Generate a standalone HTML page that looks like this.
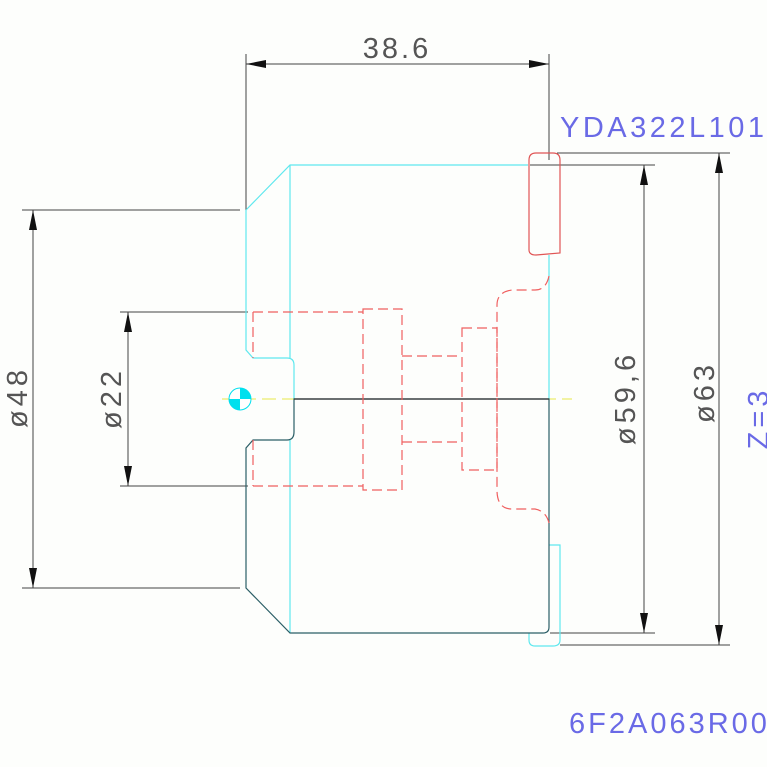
<!DOCTYPE html>
<html><head><meta charset="utf-8"><style>
html,body{margin:0;padding:0;background:#fdfefc;}
svg{display:block}
text{font-family:"Liberation Sans",sans-serif;}
</style></head><body>
<svg width="767" height="767" viewBox="0 0 767 767">
<rect width="767" height="767" fill="#fdfefc"/>
<g stroke="#444" stroke-width="1" fill="none">
<line x1="246" y1="54" x2="246" y2="210"/>
<line x1="549" y1="54" x2="549" y2="160"/>
<line x1="246" y1="64" x2="549" y2="64"/>
<line x1="557" y1="153" x2="730" y2="153"/>
<line x1="530" y1="165" x2="655" y2="165"/>
<line x1="550" y1="633" x2="655" y2="633"/>
<line x1="560" y1="645" x2="730" y2="645"/>
<line x1="644" y1="165" x2="644" y2="633"/>
<line x1="719" y1="153" x2="719" y2="645"/>
<line x1="22" y1="210" x2="240" y2="210"/>
<line x1="22" y1="588" x2="240" y2="588"/>
<line x1="33" y1="210" x2="33" y2="588"/>
<line x1="120" y1="312" x2="248" y2="312"/>
<line x1="120" y1="486" x2="248" y2="486"/>
<line x1="128" y1="312" x2="128" y2="486"/>
</g>
<g fill="#111">
<polygon points="246,64 266,60 266,68"/>
<polygon points="549,64 529,60 529,68"/>
<polygon points="644,165 640,185 648,185"/>
<polygon points="644,633 640,613 648,613"/>
<polygon points="719,153 715,173 723,173"/>
<polygon points="719,645 715,625 723,625"/>
<polygon points="33,210 29,230 37,230"/>
<polygon points="33,588 29,568 37,568"/>
<polygon points="128,312 124,332 132,332"/>
<polygon points="128,486 124,466 132,466"/>
</g>
<line x1="222" y1="399" x2="572" y2="399" stroke="#e8e84a" stroke-width="1" stroke-dasharray="14,6"/>
<g stroke="#5fe8ee" stroke-width="1.2" fill="none">
<polyline points="246,210 290,165 528,165"/>
<polyline points="246,210 246,350 253,358 287,358"/>
<path d="M287,358 Q294,358 294,365 L294,399"/>
<line x1="290" y1="165" x2="290" y2="358"/>
<line x1="290" y1="440" x2="290" y2="633"/>
<line x1="549" y1="255" x2="549" y2="400"/>
<path d="M549,545 L560,545 L560,640 Q560,646 553,646 L535,646 Q529,646 529,640 L529,633"/>
</g>
<path d="M294,399 L294,432 Q294,440 287,440 L253,440 L246,448 L246,588 L290,633 L543,633 Q549,633 549,627 L549,399 Z" stroke="#2b5e66" stroke-width="1.2" fill="none"/>
<line x1="294" y1="399" x2="549" y2="399" stroke="#333" stroke-width="1.2"/>
<path d="M529,160 Q529,153 536,153 L553,153 Q560,153 560,160 L560,253 L536,255 Q529,255 529,250 Z" stroke="#e05555" stroke-width="1.2" fill="none"/>
<g stroke="#f06060" stroke-width="1.2" fill="none" stroke-dasharray="10,5">
<line x1="253" y1="312" x2="363" y2="312"/>
<line x1="253" y1="486" x2="363" y2="486"/>
<line x1="253" y1="312" x2="253" y2="358"/>
<line x1="253" y1="440" x2="253" y2="486"/>
<rect x="363" y="309" width="39" height="181"/>
<line x1="402" y1="356" x2="462" y2="356"/>
<line x1="402" y1="442" x2="462" y2="442"/>
<rect x="462" y="328" width="35" height="142"/>
<path d="M549,276 Q546,290 535,290 L512,290 Q497,292 497,305 L497,490 Q497,509 512,509 L535,509 Q546,511 549,523"/>
</g>
<g>
<circle cx="240" cy="399" r="11" fill="#fff" stroke="#00e0ee" stroke-width="1"/>
<path d="M240,399 L240,388 A11,11 0 0 1 251,399 Z" fill="#00e0ee"/>
<path d="M240,399 L240,410 A11,11 0 0 1 229,399 Z" fill="#00e0ee"/>
</g>
<text x="397" y="58" font-size="29" fill="#555" text-anchor="middle" letter-spacing="3">38.6</text>
<text x="560" y="137" font-size="29" fill="#6a6ae6" letter-spacing="3.5">YDA322L101</text>
<text x="569" y="733" font-size="29" fill="#6a6ae6" letter-spacing="3">6F2A063R00</text>
<text transform="translate(635,398) rotate(-90)" font-size="29" fill="#555" text-anchor="middle" letter-spacing="4">ø59,6</text>
<text transform="translate(714,392) rotate(-90)" font-size="29" fill="#555" text-anchor="middle" letter-spacing="4">ø63</text>
<text transform="translate(768,418) rotate(-90)" font-size="29" fill="#6a6ae6" text-anchor="middle" letter-spacing="4">Z=3</text>
<text transform="translate(27,397) rotate(-90)" font-size="29" fill="#555" text-anchor="middle" letter-spacing="4">ø48</text>
<text transform="translate(121,398) rotate(-90)" font-size="29" fill="#555" text-anchor="middle" letter-spacing="4">ø22</text>
</svg>
</body></html>
